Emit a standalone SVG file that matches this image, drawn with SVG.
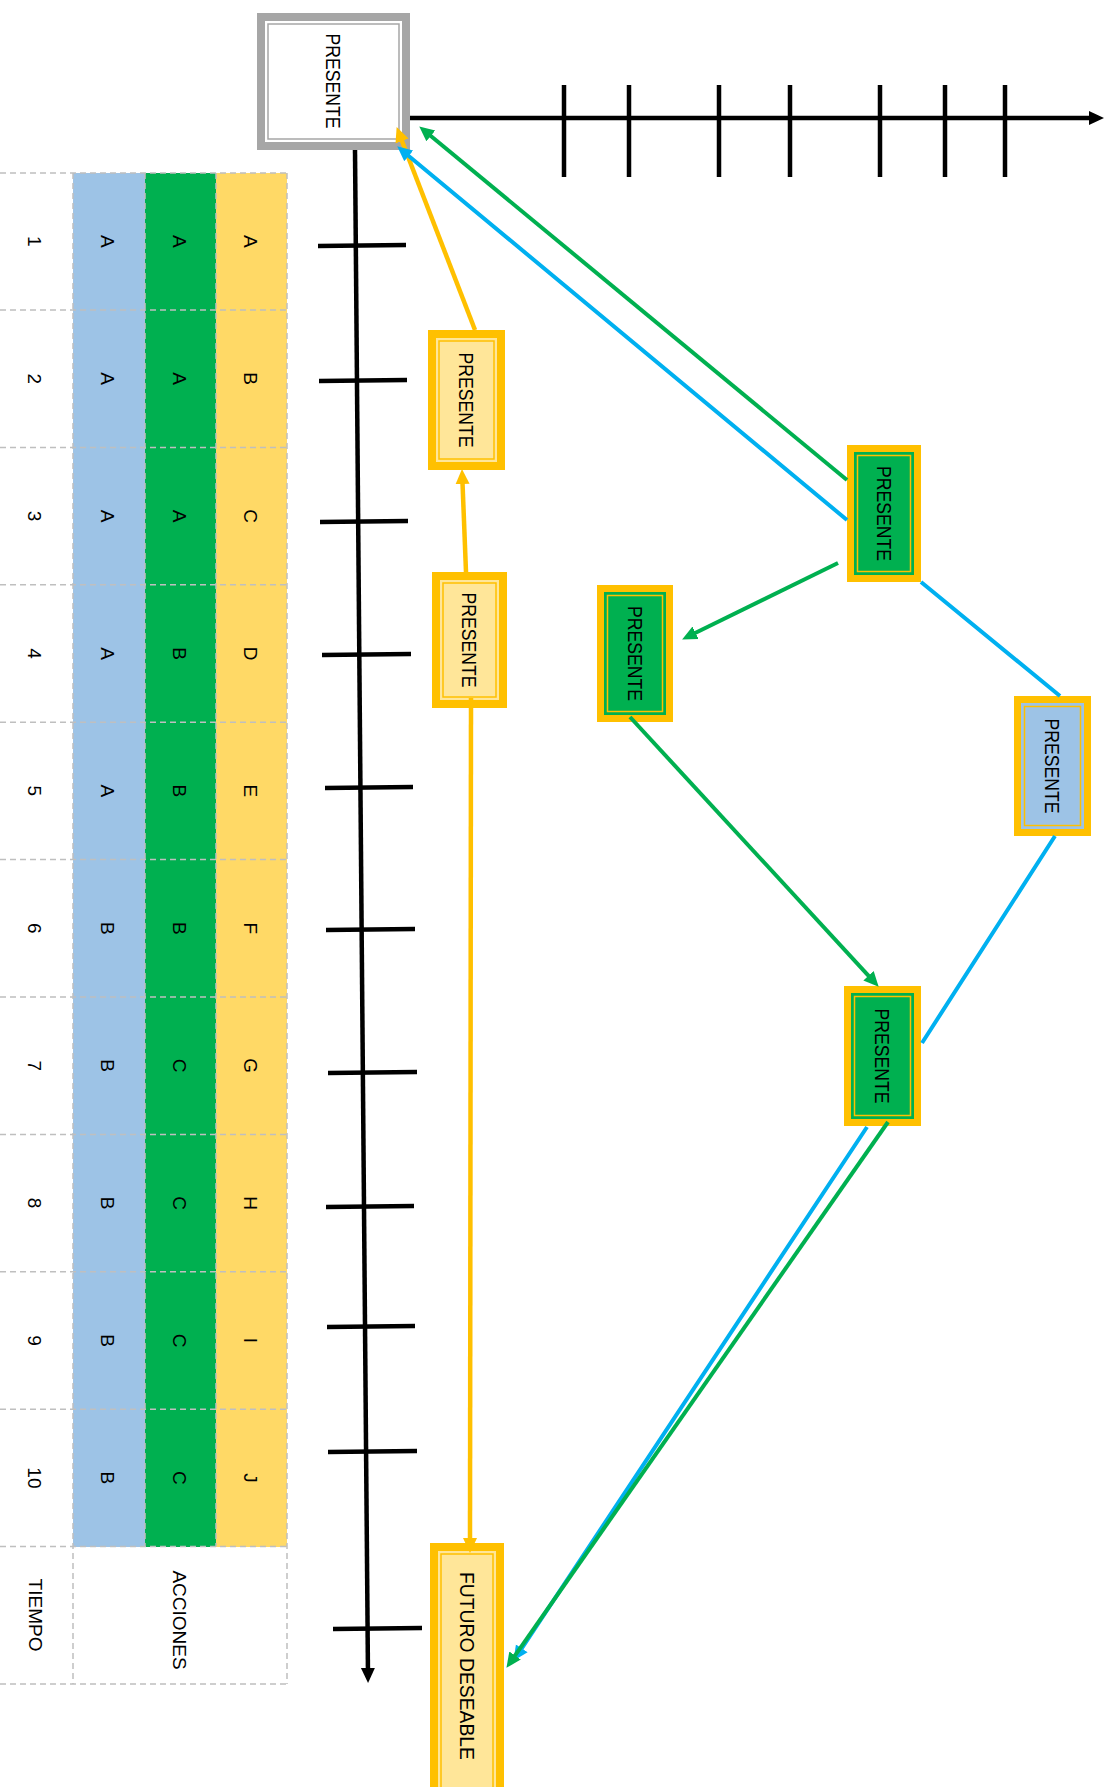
<svg xmlns="http://www.w3.org/2000/svg" width="1108" height="1787" viewBox="0 0 1108 1787">
  <style>
    text { font-family: "Liberation Sans", Arial, sans-serif; fill: #000; }
    .cell { font-size: 19px; text-anchor: middle; }
    .lbl { font-size: 20px; text-anchor: middle; }
    .grid { stroke: #BFBFBF; stroke-width: 1.5; stroke-dasharray: 6 4; fill: none; }
    .axis { stroke: #000; stroke-width: 4.5; fill: none; }
    .tick { stroke: #000; stroke-width: 4.5; }
    .band { fill: #FFC000; }
    .inner-line { fill: none; stroke: #FFC000; stroke-width: 1.5; }
    .c-yellow { stroke: #FFC000; stroke-width: 4.5; fill: none; }
    .c-green { stroke: #00B050; stroke-width: 4; fill: none; }
    .c-blue { stroke: #00B0F0; stroke-width: 4; fill: none; }
  </style>
  <defs>
    <marker id="ah-black" markerUnits="userSpaceOnUse" markerWidth="16" markerHeight="16" refX="9" refY="8" orient="auto">
      <path d="M0,1 L15,8 L0,15 z" fill="#000"/>
    </marker>
    <marker id="ah-yellow" markerUnits="userSpaceOnUse" markerWidth="16" markerHeight="16" refX="9" refY="8" orient="auto">
      <path d="M0,1 L15,8 L0,15 z" fill="#FFC000"/>
    </marker>
    <marker id="ah-green" markerUnits="userSpaceOnUse" markerWidth="16" markerHeight="16" refX="9" refY="8" orient="auto">
      <path d="M0,1 L15,8 L0,15 z" fill="#00B050"/>
    </marker>
    <marker id="ah-blue" markerUnits="userSpaceOnUse" markerWidth="16" markerHeight="16" refX="9" refY="8" orient="auto">
      <path d="M0,1 L15,8 L0,15 z" fill="#00B0F0"/>
    </marker>
  </defs>

  <rect width="1108" height="1787" fill="#fff"/>

  <!-- Table: TIEMPO / ACCIONES -->
  <g id="table">
    <rect x="73" y="173" width="72" height="1374" fill="#9DC3E6"/>
    <rect x="145" y="173" width="71" height="1374" fill="#00B050"/>
    <rect x="216" y="173" width="71" height="1374" fill="#FFD966"/>
    <g class="grid">
      <path d="M0,173 H287 M0,310 H287 M0,447.4 H287 M0,584.8 H287 M0,722.2 H287 M0,859.6 H287 M0,997 H287 M0,1134.4 H287 M0,1271.8 H287 M0,1409.2 H287 M0,1546.6 H287 M0,1684 H287"/>
      <path d="M73,173 V1684 M145,173 V1546.6 M216,173 V1546.6 M287,173 V1684"/>
    </g>
    <g class="cell">
      <text transform="translate(35,241.3) rotate(90)" y="6.8">1</text>
      <text transform="translate(35,378.7) rotate(90)" y="6.8">2</text>
      <text transform="translate(35,516.1) rotate(90)" y="6.8">3</text>
      <text transform="translate(35,653.5) rotate(90)" y="6.8">4</text>
      <text transform="translate(35,790.9) rotate(90)" y="6.8">5</text>
      <text transform="translate(35,928.3) rotate(90)" y="6.8">6</text>
      <text transform="translate(35,1065.7) rotate(90)" y="6.8">7</text>
      <text transform="translate(35,1203.1) rotate(90)" y="6.8">8</text>
      <text transform="translate(35,1340.5) rotate(90)" y="6.8">9</text>
      <text transform="translate(35,1477.9) rotate(90)" y="6.8">10</text>

      <text transform="translate(108,241.3) rotate(90)" y="6.8">A</text>
      <text transform="translate(108,378.7) rotate(90)" y="6.8">A</text>
      <text transform="translate(108,516.1) rotate(90)" y="6.8">A</text>
      <text transform="translate(108,653.5) rotate(90)" y="6.8">A</text>
      <text transform="translate(108,790.9) rotate(90)" y="6.8">A</text>
      <text transform="translate(108,928.3) rotate(90)" y="6.8">B</text>
      <text transform="translate(108,1065.7) rotate(90)" y="6.8">B</text>
      <text transform="translate(108,1203.1) rotate(90)" y="6.8">B</text>
      <text transform="translate(108,1340.5) rotate(90)" y="6.8">B</text>
      <text transform="translate(108,1477.9) rotate(90)" y="6.8">B</text>

      <text transform="translate(180,241.3) rotate(90)" y="6.8">A</text>
      <text transform="translate(180,378.7) rotate(90)" y="6.8">A</text>
      <text transform="translate(180,516.1) rotate(90)" y="6.8">A</text>
      <text transform="translate(180,653.5) rotate(90)" y="6.8">B</text>
      <text transform="translate(180,790.9) rotate(90)" y="6.8">B</text>
      <text transform="translate(180,928.3) rotate(90)" y="6.8">B</text>
      <text transform="translate(180,1065.7) rotate(90)" y="6.8">C</text>
      <text transform="translate(180,1203.1) rotate(90)" y="6.8">C</text>
      <text transform="translate(180,1340.5) rotate(90)" y="6.8">C</text>
      <text transform="translate(180,1477.9) rotate(90)" y="6.8">C</text>

      <text transform="translate(251,241.3) rotate(90)" y="6.8">A</text>
      <text transform="translate(251,378.7) rotate(90)" y="6.8">B</text>
      <text transform="translate(251,516.1) rotate(90)" y="6.8">C</text>
      <text transform="translate(251,653.5) rotate(90)" y="6.8">D</text>
      <text transform="translate(251,790.9) rotate(90)" y="6.8">E</text>
      <text transform="translate(251,928.3) rotate(90)" y="6.8">F</text>
      <text transform="translate(251,1065.7) rotate(90)" y="6.8">G</text>
      <text transform="translate(251,1203.1) rotate(90)" y="6.8">H</text>
      <text transform="translate(251,1340.5) rotate(90)" y="6.8">I</text>
      <text transform="translate(251,1477.9) rotate(90)" y="6.8">J</text>

      <text transform="translate(36,1615) rotate(90)" y="6.8">TIEMPO</text>
      <text transform="translate(180,1620) rotate(90)" y="6.8">ACCIONES</text>
    </g>
  </g>

  <!-- Time axes -->
  <g id="axes">
    <line class="axis" x1="410" y1="118" x2="1098" y2="118" marker-end="url(#ah-black)"/>
    <g class="tick">
      <line x1="564" y1="85" x2="564" y2="177"/>
      <line x1="629" y1="85" x2="629" y2="177"/>
      <line x1="719" y1="85" x2="719" y2="177"/>
      <line x1="790" y1="85" x2="790" y2="177"/>
      <line x1="880" y1="85" x2="880" y2="177"/>
      <line x1="945" y1="85" x2="945" y2="177"/>
      <line x1="1005" y1="85" x2="1005" y2="177"/>
    </g>
    <line class="axis" x1="355" y1="150" x2="368" y2="1677" marker-end="url(#ah-black)"/>
    <g class="tick">
      <line x1="318" y1="246" x2="406" y2="245"/>
      <line x1="319" y1="381" x2="407" y2="380"/>
      <line x1="320" y1="522" x2="408" y2="521"/>
      <line x1="322" y1="655" x2="411" y2="654"/>
      <line x1="325" y1="788" x2="413" y2="787"/>
      <line x1="326" y1="930" x2="415" y2="929"/>
      <line x1="328" y1="1073" x2="417" y2="1072"/>
      <line x1="326" y1="1207" x2="414" y2="1206"/>
      <line x1="327" y1="1327" x2="415" y2="1326"/>
      <line x1="328" y1="1452" x2="417" y2="1451"/>
      <line x1="333" y1="1629" x2="422" y2="1628"/>
    </g>
  </g>

  <!-- Nodes -->
  <g id="node-presente-origen">
    <rect x="257" y="13" width="153" height="137" fill="#A6A6A6"/>
    <rect x="265" y="21" width="137" height="121" fill="#fff"/>
    <rect x="268" y="24" width="131" height="115" fill="none" stroke="#A6A6A6" stroke-width="1.5"/>
    <text class="lbl" transform="translate(333,81) rotate(90)" y="7.2" textLength="95" lengthAdjust="spacingAndGlyphs">PRESENTE</text>
  </g>

  <g id="node-amarillo-1">
    <rect class="band" x="428" y="330" width="77" height="140"/>
    <rect x="436" y="338" width="61" height="124" fill="#FFE699"/>
    <rect class="inner-line" x="439" y="341" width="55" height="118"/>
    <text class="lbl" transform="translate(466.5,400) rotate(90)" y="7.2" textLength="95" lengthAdjust="spacingAndGlyphs">PRESENTE</text>
  </g>

  <g id="node-amarillo-2">
    <rect class="band" x="432" y="572" width="75" height="136"/>
    <rect x="440" y="580" width="59" height="120" fill="#FFE699"/>
    <rect class="inner-line" x="443" y="583" width="53" height="114"/>
    <text class="lbl" transform="translate(469.5,640) rotate(90)" y="7.2" textLength="95" lengthAdjust="spacingAndGlyphs">PRESENTE</text>
  </g>

  <g id="node-verde-1">
    <rect class="band" x="847" y="445" width="74" height="137"/>
    <rect x="854" y="452" width="60" height="123" fill="#00B050"/>
    <rect class="inner-line" x="857.5" y="455.5" width="53" height="116"/>
    <text class="lbl" transform="translate(884,513.5) rotate(90)" y="7.2" textLength="95" lengthAdjust="spacingAndGlyphs">PRESENTE</text>
  </g>

  <g id="node-verde-2">
    <rect class="band" x="597" y="585" width="76" height="137"/>
    <rect x="604" y="592" width="62" height="123" fill="#00B050"/>
    <rect class="inner-line" x="607.5" y="595.5" width="55" height="116"/>
    <text class="lbl" transform="translate(635,653.5) rotate(90)" y="7.2" textLength="95" lengthAdjust="spacingAndGlyphs">PRESENTE</text>
  </g>

  <g id="node-azul">
    <rect class="band" x="1014" y="696" width="77" height="140"/>
    <rect x="1021" y="703" width="63" height="126" fill="#9DC3E6"/>
    <rect class="inner-line" x="1024.5" y="706.5" width="56" height="119"/>
    <text class="lbl" transform="translate(1052.5,766) rotate(90)" y="7.2" textLength="95" lengthAdjust="spacingAndGlyphs">PRESENTE</text>
  </g>

  <g id="node-verde-3">
    <rect class="band" x="844" y="986" width="77" height="140"/>
    <rect x="851" y="993" width="63" height="126" fill="#00B050"/>
    <rect class="inner-line" x="854.5" y="996.5" width="56" height="119"/>
    <text class="lbl" transform="translate(882.5,1056) rotate(90)" y="7.2" textLength="95" lengthAdjust="spacingAndGlyphs">PRESENTE</text>
  </g>

  <g id="node-futuro">
    <rect class="band" x="430" y="1543" width="74" height="260"/>
    <rect x="438" y="1551" width="58" height="244" fill="#FFE699"/>
    <rect class="inner-line" x="441" y="1554" width="52" height="238"/>
    <text class="lbl" transform="translate(467,1666) rotate(90)" y="7.2" textLength="188" lengthAdjust="spacingAndGlyphs">FUTURO DESEABLE</text>
  </g>

  <!-- Connectors -->
  <g id="connectors">
    <path class="c-yellow" d="M475,330 L398.8,132.7" marker-end="url(#ah-yellow)"/>
    <path class="c-yellow" d="M466,572 L462.2,475" marker-end="url(#ah-yellow)"/>
    <path class="c-yellow" d="M471,698 L470,1547" marker-end="url(#ah-yellow)"/>
    <path class="c-green" d="M847,480 L423.9,130.2" marker-end="url(#ah-green)"/>
    <path class="c-blue" d="M1060,696 L921,582 M847,520 L401.8,150.2" marker-end="url(#ah-blue)"/>
    <path class="c-green" d="M838,563 L687.5,636.8" marker-end="url(#ah-green)"/>
    <path class="c-green" d="M630,717 L874.6,982.3" marker-end="url(#ah-green)"/>
    <path class="c-blue" d="M1055,836 L922,1043 M867,1127 L516.8,1655.8" marker-end="url(#ah-blue)"/>
    <path class="c-green" d="M888,1122 L509.9,1662.9" marker-end="url(#ah-green)"/>
  </g>
</svg>
